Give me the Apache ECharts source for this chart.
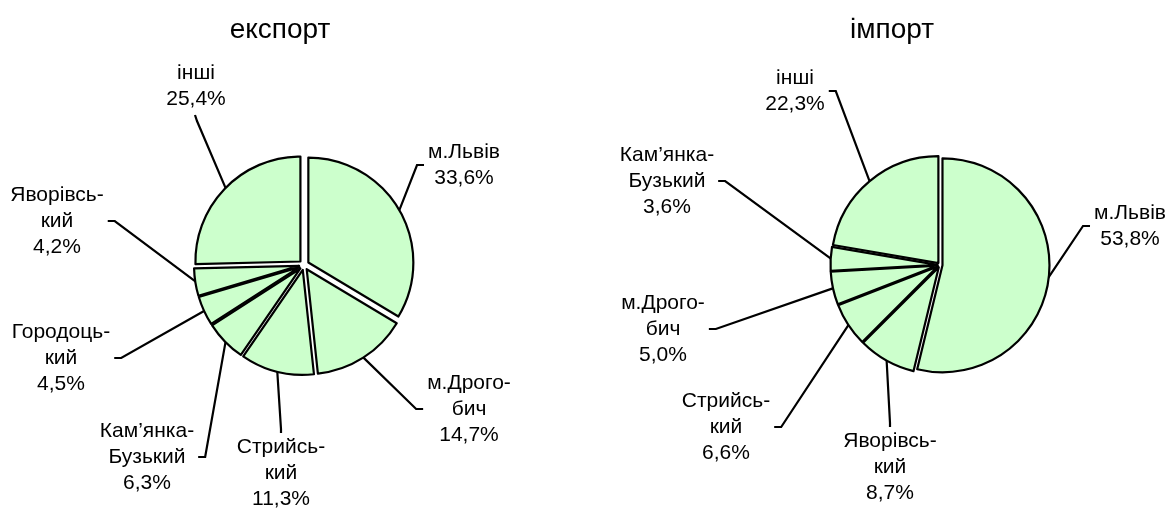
<!DOCTYPE html>
<html>
<head>
<meta charset="utf-8">
<script src="https://cdn.jsdelivr.net/npm/echarts@6/dist/echarts.min.js"></script>
<style>
  html, body { margin: 0; padding: 0; background: #fff; }
  #chart { width: 1170px; height: 513px; }
</style>
</head>
<body>
<div id="chart"></div>
<script>
// експорт
var exportNames = ['м.Львів', 'м.Дрого-\nбич', 'Стрийсь-\nкий', 'Кам’янка-\nБузький', 'Городоць-\nкий', 'Яворівсь-\nкий', 'інші'];
var exportValues = [33.6, 14.7, 11.3, 6.3, 4.5, 4.2, 25.4];
// імпорт
var importNames = ['м.Львів', 'Яворівсь-\nкий', 'Стрийсь-\nкий', 'м.Дрого-\nбич', 'Кам’янка-\nБузький', 'інші'];
var importValues = [53.8, 8.7, 6.6, 5.0, 3.6, 22.3];

// where each label block sits and which side the leader line joins it
var exportLabelPos = [[464, 165, 'l'], [469, 409, 'l'], [281, 473, 't'], [147, 457, 'r'], [61, 358, 'r'], [57, 221, 'r'], [196, 86, 'b']];
var importLabelPos = [[1130, 226, 'l'], [890, 467, 't'], [726, 427, 'r'], [663, 329, 'r'], [667, 181, 'r'], [795, 91, 'r']];

var font = "'Liberation Sans', Arial, sans-serif";
var green = '#CCFFCC';

function placeLabel(posList) {
  return function (params) {
    var p = posList[params.dataIndex];
    var cx = p[0], cy = p[1], side = p[2];
    var w = params.labelRect.width, h = params.labelRect.height;
    var a = params.labelLinePoints ? params.labelLinePoints[0] : [cx, cy];
    var end, bend;
    if (side === 'l') {
      end = [cx - w / 2 - 4, cy]; bend = [end[0] - 7, cy];
    } else if (side === 'r') {
      end = [cx + w / 2 + 4, cy]; bend = [end[0] + 7, cy];
    } else if (side === 't') {
      end = [cx, cy - h / 2 - 1]; bend = [cx, end[1] - 4];
    } else {
      end = [cx - 1, cy + h / 2 + 3]; bend = [cx + 1, end[1] + 6];
    }
    return {
      x: cx, y: cy, align: 'center', verticalAlign: 'middle',
      labelLinePoints: [a, bend, end]
    };
  };
}

// exploded slices, no labels
function sliceSeries(names, values, center, radius, offset) {
  return {
    type: 'pie',
    center: center,
    radius: radius,
    startAngle: 90,
    clockwise: true,
    selectedMode: 'multiple',
    selectedOffset: offset,
    data: names.map(function (n, i) { return { name: n, value: values[i], selected: true }; }),
    itemStyle: { color: green, borderColor: '#000', borderWidth: 2.2 },
    select: { itemStyle: { color: green, borderColor: '#000', borderWidth: 2.2 } },
    emphasis: { disabled: true },
    label: { show: false },
    labelLine: { show: false }
  };
}

// invisible copy that only carries the labels and leader lines
function labelSeries(names, values, center, radius, posList) {
  return {
    type: 'pie',
    center: center,
    radius: radius,
    startAngle: 90,
    clockwise: true,
    silent: true,
    avoidLabelOverlap: false,
    data: names.map(function (n, i) { return { name: n, value: values[i] }; }),
    itemStyle: { color: 'rgba(0,0,0,0)', borderWidth: 0 },
    emphasis: { disabled: true },
    label: {
      show: true,
      position: 'outside',
      color: '#000',
      fontFamily: font,
      fontSize: 21,
      lineHeight: 26,
      align: 'center',
      formatter: function (p) {
        return p.name + '\n' + p.value.toFixed(1).replace('.', ',') + '%';
      }
    },
    labelLine: { show: true, length: 10, length2: 10, lineStyle: { color: '#000', width: 2.2 } },
    labelLayout: placeLabel(posList)
  };
}

var myChart = echarts.init(document.getElementById('chart'), null, { renderer: 'canvas' });
myChart.setOption({
  animation: false,
  backgroundColor: '#fff',
  title: [
    { text: 'експорт', left: 275, top: 25, textAlign: 'center', textVerticalAlign: 'middle',
      textStyle: { fontFamily: font, fontSize: 28, fontWeight: 'normal', color: '#000' } },
    { text: 'імпорт', left: 887, top: 25, textAlign: 'center', textVerticalAlign: 'middle',
      textStyle: { fontFamily: font, fontSize: 28, fontWeight: 'normal', color: '#000' } }
  ],
  series: [
    sliceSeries(exportNames, exportValues, [304, 265], 105, 5),
    labelSeries(exportNames, exportValues, [304, 265], 109, exportLabelPos),
    sliceSeries(importNames, importValues, [940, 265], 107, 2.5),
    labelSeries(importNames, importValues, [940, 265], 109, importLabelPos)
  ]
});
</script>
</body>
</html>
